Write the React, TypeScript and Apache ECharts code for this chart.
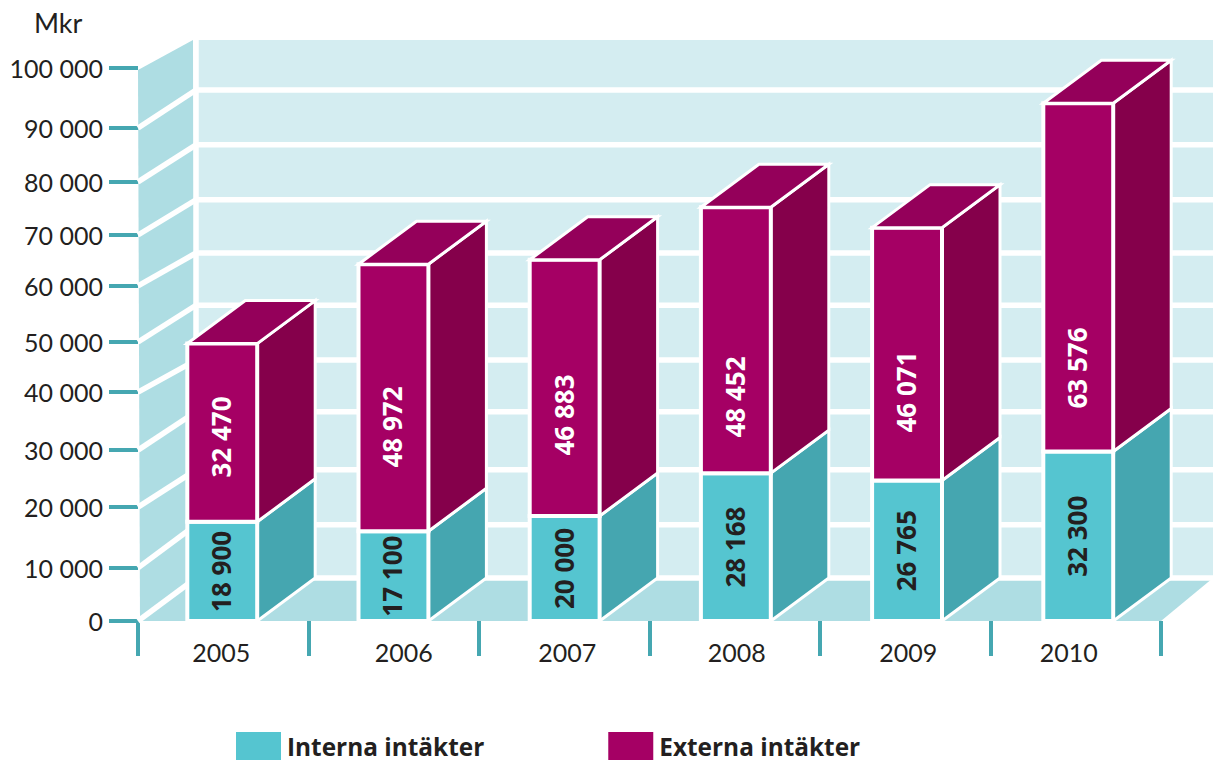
import React, { useEffect, useRef } from "react";
import * as echarts from "echarts";

const years = ["2005", "2006", "2007", "2008", "2009", "2010"];
const internal = [18900, 17100, 20000, 28168, 26765, 32300];
const external = [32470, 48972, 46883, 48452, 46071, 63576];
// The hand-drawn original places its ticks slightly unevenly: axis values as drawn.
const tickValues = [0, 9600, 20600, 30900, 41400, 50450, 60600, 69800, 79400, 89150, 100000];
const wallLineValues = [9900, 20100, 30900, 40500, 50700, 60400, 70300, 80500, 90700];
// Where the original's labels of the upper boxes sit, in axis units (they are not centred).
const externalLabelAt = [34074, 35926, 38148, 41481, 42407, 46852];
const yearNudge = [-2, 10, 3, 2, 3, -7];

const DX = 58;
const DY = 43;
const WALL_K = 0.973;
const INTERNAL_K = 0.972; // the original draws its lower boxes a little shorter
const BAR_DRIFT = 0.7;
const C = {
  wall: "#d4edf1",
  side: "#aedde3",
  tick: "#45a7b1",
  text: "#231f20",
  tealFront: "#55c5d0",
  tealSide: "#45a6b0",
  magFront: "#a50064",
  magSide: "#85004b",
  magTop: "#94005a",
};
const FONT = "Lato";
const BOLD_FONT = "'Open Sans'";
const fmt = (v: number) => String(v).replace(/\B(?=(\d{3})+(?!\d))/g, " ");

function poly(points: number[][], fill: string, stroke = "#fff", lineWidth = 3) {
  return { type: "polygon", shape: { points }, style: { fill, stroke, lineWidth, lineJoin: "miter" } };
}

function renderWalls(_p: any, api: any) {
  const [x0, y0] = api.coord([0, 0]);
  const band = api.size([1, 0])[0];
  const xLeft = x0 - band / 2;
  const xBack = xLeft + DX;
  const xRightFront = xLeft + band * years.length;
  const width = api.getWidth();
  const backY = (v: number) => y0 - DY - (y0 - api.coord([0, v])[1]) * WALL_K;
  const frontY = (v: number) => api.coord([0, v])[1];
  const white = (x1: number, y1: number, x2: number, y2: number, w = 5.5) => ({
    type: "line",
    shape: { x1, y1, x2, y2 },
    style: { stroke: "#fff", lineWidth: w },
  });
  const children: any[] = [
    { type: "rect", shape: { x: xBack, y: backY(100000), width: width - xBack, height: backY(0) - backY(100000) }, style: { fill: C.wall } },
    {
      type: "polygon",
      shape: { points: [[xLeft, frontY(100000) + 2], [xBack - 3, backY(100000)], [xBack, backY(0)], [xLeft + 2, y0]] },
      style: { fill: C.side },
    },
    {
      type: "polygon",
      shape: { points: [[xLeft + 2, y0], [xBack, backY(0)], [width, backY(0)], [xRightFront, y0]] },
      style: { fill: C.side },
    },
    white(xBack, backY(100000), xBack, backY(0)),
    white(xBack, backY(0), width, backY(0)),
    white(xLeft, y0, xBack, backY(0)),
  ];
  wallLineValues.forEach((v, i) => {
    const y = backY(v);
    children.push(white(xBack, y, width, y));
    children.push(white(xLeft, frontY(tickValues[i + 1]), xBack, y));
  });
  return { type: "group", children };
}

function makeBox(
  lows: number[],
  highs: number[],
  lowK: number,
  highK: number,
  labelAt: number[] | null,
  front: string,
  side: string,
  top: string | null,
  labelColor: string,
) {
  return (p: any, api: any) => {
    const i = p.dataIndex;
    const y0 = api.coord([i, 0])[1];
    const [cx, yL] = api.coord([i, lows[i]]);
    const yLow = y0 - (y0 - yL) * lowK;
    const yHigh = y0 - (y0 - api.coord([i, highs[i]])[1]) * highK;
    const w = api.size([1, 0])[0] * 0.41;
    const xl = cx - 1 + i * BAR_DRIFT - w / 2;
    const xr = xl + w;
    const children: any[] = [
      poly([[xr, yLow], [xr + DX, yLow - DY], [xr + DX, yHigh - DY], [xr, yHigh]], side),
      poly([[xl, yLow], [xr, yLow], [xr, yHigh], [xl, yHigh]], front, "#fff", 4),
    ];
    if (top) children.push(poly([[xl, yHigh], [xr, yHigh], [xr + DX, yHigh - DY], [xl + DX, yHigh - DY]], top));
    children.push({
      type: "text",
      x: (xl + xr) / 2 - 1,
      y: labelAt ? api.coord([i, labelAt[i]])[1] : (yLow + yHigh) / 2,
      rotation: Math.PI / 2,
      style: {
        text: fmt(highs[i] - lows[i]),
        fill: labelColor,
        font: `bold 26px ${BOLD_FONT}`,
        align: "center",
        verticalAlign: "middle",
      },
    });
    return { type: "group", children };
  };
}

const totals = internal.map((v, i) => v + external[i]);
const zeros = internal.map(() => 0);
const yearRich: Record<string, any> = {};
yearNudge.forEach((n, i) => {
  yearRich["y" + i] = {
    color: C.text,
    fontFamily: FONT,
    fontSize: 25,
    padding: n >= 0 ? [0, 0, 0, 2 * n] : [0, -2 * n, 0, 0],
  };
});

export default function App() {
  const ref = useRef<HTMLDivElement>(null);
  useEffect(() => {
    document.body.style.margin = "0";
    const chart = echarts.init(ref.current!, undefined, { renderer: "svg" });
    chart.setOption({
      animation: false,
      backgroundColor: "#fff",
      grid: { left: 138, top: 68, width: 1023, height: 553, containLabel: false },
      xAxis: {
        type: "category",
        data: years,
        offset: 3,
        axisLine: { show: false },
        axisTick: { show: true, alignWithLabel: false, length: 35, lineStyle: { color: C.tick, width: 4 } },
        axisLabel: {
          show: true,
          margin: 15,
          interval: 0,
          formatter: (v: string) => `{y${years.indexOf(v)}|${v}}`,
          rich: yearRich,
        },
        splitLine: { show: false },
      },
      yAxis: [
        {
          type: "value",
          min: 0,
          max: 100000,
          axisLine: { show: false },
          splitLine: { show: false },
          axisTick: { show: true, length: 29, customValues: tickValues, lineStyle: { color: C.tick, width: 4 } },
          axisLabel: {
            show: true,
            customValues: tickValues,
            margin: 35,
            color: C.text,
            fontFamily: FONT,
            fontSize: 25,
            formatter: (v: number) => fmt(Math.round(v / 10000) * 10000),
          },
        },
        { type: "value", min: 0, max: 102400, show: false, splitLine: { show: false } },
      ],
      legend: {
        left: 236,
        top: 732,
        padding: 0,
        itemWidth: 45,
        itemHeight: 28,
        itemGap: 124,
        icon: "rect",
        selectedMode: false,
        data: ["Interna intäkter", "Externa intäkter"],
        textStyle: { color: C.text, fontFamily: BOLD_FONT, fontWeight: "bold", fontSize: 24.4, lineHeight: 24, padding: [0, 0, 0, 1] },
      },
      graphic: [
        { type: "text", x: 34, y: 9, style: { text: "Mkr", fill: C.text, font: `27px ${FONT}` } },
      ],
      series: [
        {
          type: "custom",
          name: "wall",
          silent: true,
          data: [[0, 0]],
          encode: { x: 0, y: 1 },
          renderItem: renderWalls,
          z: 1,
        },
        {
          type: "custom",
          name: "Interna intäkter",
          yAxisIndex: 1,
          itemStyle: { color: C.tealFront },
          data: internal.map((v, i) => [i, v]),
          encode: { x: 0, y: 1 },
          renderItem: makeBox(zeros, internal, 1, INTERNAL_K, null, C.tealFront, C.tealSide, null, C.text),
          z: 2,
        },
        {
          type: "custom",
          name: "Externa intäkter",
          yAxisIndex: 1,
          itemStyle: { color: C.magFront },
          data: totals.map((v, i) => [i, v]),
          encode: { x: 0, y: 1 },
          renderItem: makeBox(internal, totals, INTERNAL_K, 1, externalLabelAt, C.magFront, C.magSide, C.magTop, "#ffffff"),
          z: 3,
        },
      ],
    });
    return () => chart.dispose();
  }, []);
  return <div ref={ref} style={{ position: "absolute", left: 0, top: 0, width: 1213, height: 760 }} />;
}
